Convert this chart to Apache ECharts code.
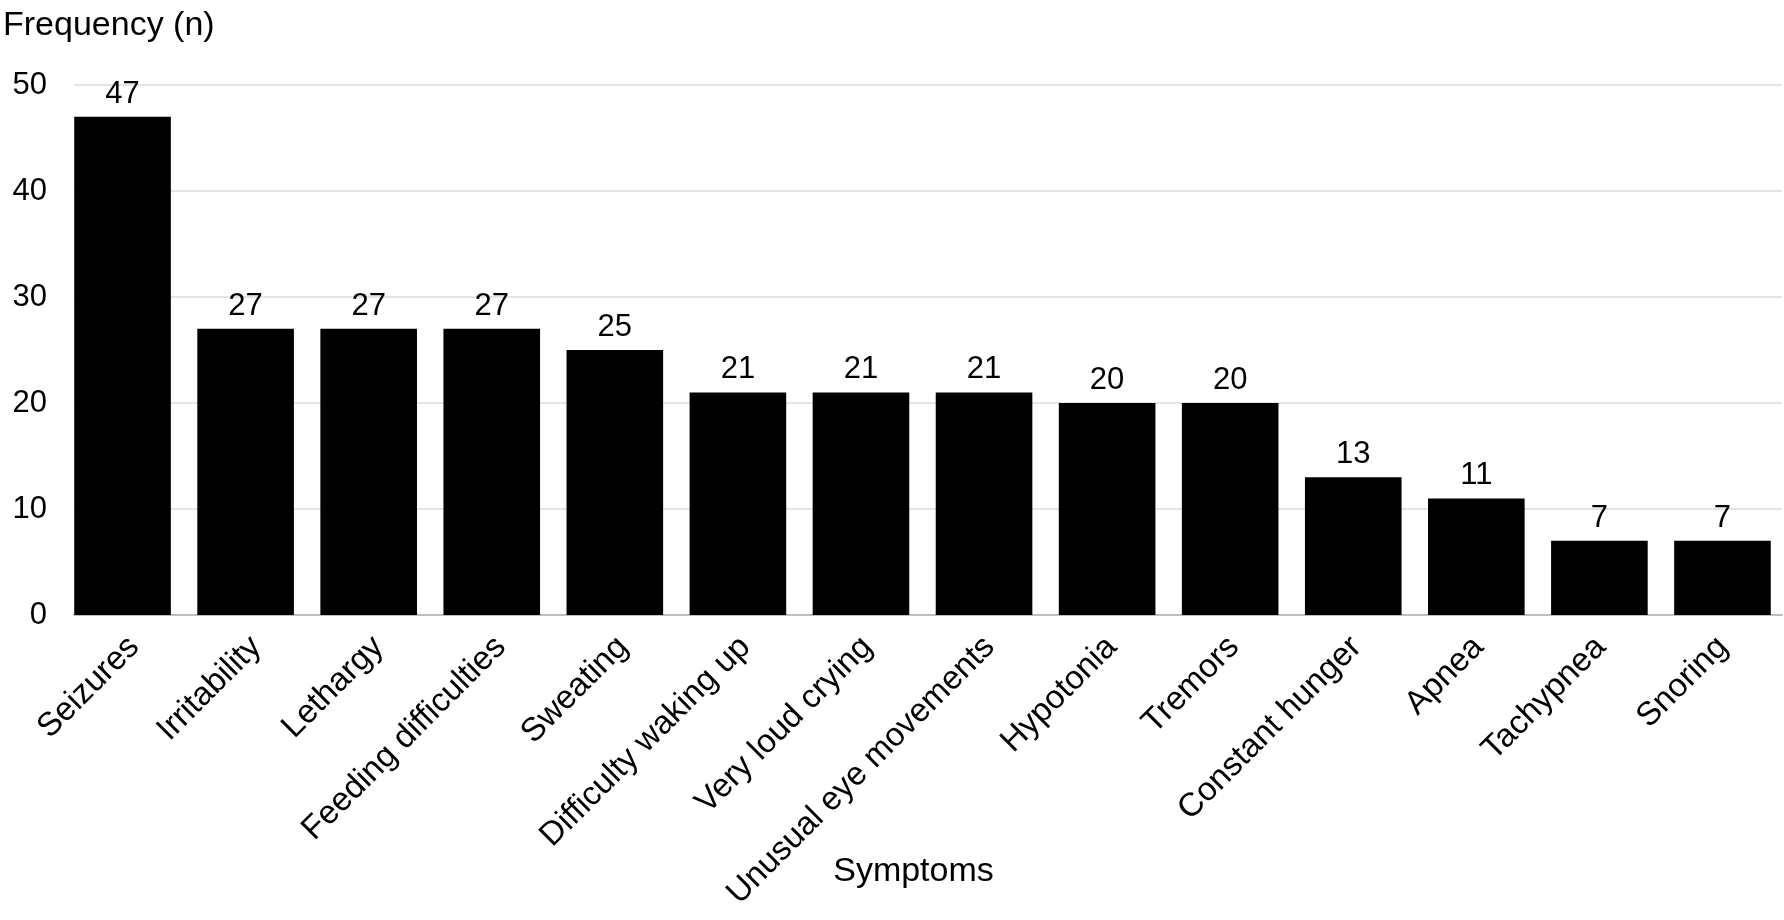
<!DOCTYPE html>
<html lang="en" style="height: 100%">
<head>
    <meta charset="utf-8">
    <script src="https://cdn.jsdelivr.net/npm/echarts@6/dist/echarts.min.js"></script>
</head>
<body style="height: 100%; margin: 0; background: #fff">
    <div id="container" style="width: 1784px; height: 920px;"></div>
    <script>
        // symptoms and how often each was reported
        var symptoms = ['Seizures', 'Irritability', 'Lethargy', 'Feeding difficulties', 'Sweating',
            'Difficulty waking up', 'Very loud crying', 'Unusual eye movements', 'Hypotonia',
            'Tremors', 'Constant hunger', 'Apnea', 'Tachypnea', 'Snoring'];
        var frequency = [47, 27, 27, 27, 25, 21, 21, 21, 20, 20, 13, 11, 7, 7];
        var yTicks = [0, 10, 20, 30, 40, 50];

        var font = 'Liberation Sans, Arial, sans-serif';
        var chart = echarts.init(document.getElementById('container'), null, { renderer: 'canvas' });

        // grid 0: axis line + gridlines, grid 1: bars (wider so the outer bars
        // sit flush with the axis ends), grid 2: category labels nudged right
        var gridTop = 85, gridBottom = 305;

        function hiddenValueAxis(idx) {
            return {
                type: 'value',
                gridIndex: idx,
                min: yTicks[0],
                max: yTicks[yTicks.length - 1],
                interval: 10,
                axisLine: { show: false },
                axisTick: { show: false },
                axisLabel: { show: false },
                splitLine: { show: false }
            };
        }

        var option = {
            animation: false,
            backgroundColor: '#ffffff',
            title: {
                text: 'Frequency (n)',
                left: -2,
                top: 4,
                textStyle: { fontFamily: font, fontSize: 34, fontWeight: 'normal', color: '#000' }
            },
            grid: [
                { left: 74, right: 2, top: gridTop, bottom: gridBottom },
                { left: 61, width: 1734, top: gridTop, bottom: gridBottom },
                { left: 73, width: 1734, top: gridTop, bottom: gridBottom }
            ],
            xAxis: [{
                type: 'category',
                gridIndex: 0,
                data: symptoms,
                axisLine: { lineStyle: { color: '#bfbfbf', width: 2 } },
                axisTick: { show: false },
                axisLabel: { show: false }
            }, {
                type: 'category',
                gridIndex: 1,
                data: symptoms,
                axisLine: { show: false },
                axisTick: { show: false },
                axisLabel: { show: false }
            }, {
                type: 'category',
                gridIndex: 2,
                data: symptoms,
                name: 'Symptoms',
                nameLocation: 'middle',
                nameGap: 240,
                nameMoveOverlap: false,
                nameTextStyle: { fontFamily: font, fontSize: 34, color: '#000', padding: [0, 30, 0, 0] },
                axisLine: { show: false },
                axisTick: { show: false },
                axisLabel: {
                    rotate: 45,
                    margin: 27,
                    interval: 0,
                    fontFamily: font,
                    fontSize: 33,
                    color: '#000'
                }
            }],
            yAxis: [{
                type: 'value',
                gridIndex: 0,
                min: yTicks[0],
                max: yTicks[yTicks.length - 1],
                interval: 10,
                axisLine: { show: false },
                axisTick: { show: false },
                axisLabel: { margin: 27, fontFamily: font, fontSize: 31, color: '#000' },
                splitLine: { lineStyle: { color: '#dcdcdc', width: 1.5 } }
            }, hiddenValueAxis(1), hiddenValueAxis(2)],
            series: [{
                type: 'bar',
                xAxisIndex: 1,
                yAxisIndex: 1,
                data: frequency,
                barCategoryGap: '21.5%',
                itemStyle: { color: '#000' },
                label: {
                    show: true,
                    position: 'top',
                    distance: 7,
                    fontFamily: font,
                    fontSize: 31,
                    color: '#000'
                }
            }]
        };

        chart.setOption(option);
    </script>
</body>
</html>
